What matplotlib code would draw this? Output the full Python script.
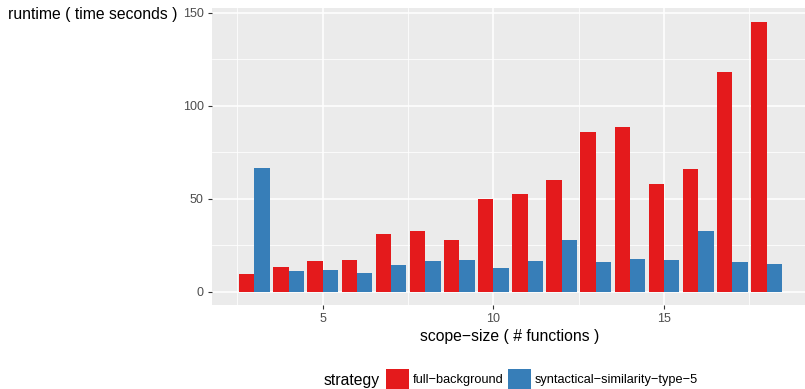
import numpy as np
import matplotlib
matplotlib.use("Agg")
from matplotlib import pyplot as plt
from matplotlib.patches import Rectangle

# scope size (number of functions)
scope_size = [3, 4, 5, 6, 7, 8, 9, 10, 11, 12, 13, 14, 15, 16, 17, 18]
full_background = [9.6, 13.4, 16.6, 17.1, 31.1, 32.7, 27.9, 49.8,
                   52.5, 60.0, 85.7, 88.4, 57.9, 65.9, 117.9, 145.2]
syntactical_similarity = [66.4, 11.2, 11.8, 10.2, 14.5, 16.6, 17.1, 12.9,
                          16.6, 27.9, 16.1, 17.7, 17.1, 32.7, 16.1, 15.0]
strategies = ["full−background", "syntactical−similarity−type−5"]
colors = ["#E41A1C", "#377EB8"]
x_ticks = [5, 10, 15]
y_ticks = [0, 50, 100, 150]

W, H = 805, 389
plt.rcParams['font.family'] = ['Liberation Sans', 'DejaVu Sans']

fig = plt.figure(figsize=(W / 100, H / 100), dpi=100)
# panel in pixel coords: left 212, right ~809 (clipped), top 8, bottom 305
ax = fig.add_axes([212 / W, (H - 305) / H, (809 - 212) / W, (305 - 8) / H])
ax.set_facecolor("#EBEBEB")

x = np.array(scope_size, dtype=float)
width = 0.45
series = [full_background, syntactical_similarity]
for i, (vals, col) in enumerate(zip(series, colors)):
    ax.bar(x - width / 2 + i * width, vals, width=width, color=col,
           linewidth=0, zorder=3)

ax.set_xlim(1.755, 19.245)
ax.set_ylim(-7.26, 152.46)

ax.set_xticks(x_ticks)
ax.set_xticks([2.5, 7.5, 12.5, 17.5], minor=True)
ax.set_yticks(y_ticks)
ax.set_yticks([25, 75, 125], minor=True)
ax.grid(which="major", color="white", linewidth=1.1, zorder=0)
ax.grid(which="minor", color="white", linewidth=0.55, zorder=0)
ax.set_axisbelow(True)
for s in ax.spines.values():
    s.set_visible(False)
ax.tick_params(which="major", length=3, width=0.8, color="#333333",
               labelsize=9, labelcolor="#4D4D4D", pad=3)
ax.tick_params(which="minor", length=0)

fig.text(8 / W, 1 - 14 / H, "runtime ( time seconds )", ha="left",
         va="center", fontsize=11.3, color="black")
fig.text(510 / W, 1 - 336 / H, "scope−size ( # functions )", ha="center",
         va="center", fontsize=11.3, color="black")

# legend along the bottom
ly = 380
fig.text(324 / W, 1 - ly / H, "strategy", ha="left", va="center", fontsize=11.3)
key_x = [386, 508]
text_x = [413, 535]
for kx, tx, col, lab in zip(key_x, text_x, colors, strategies):
    fig.patches.append(Rectangle((kx / W, 1 - 392 / H), 23 / W, 23 / H,
                                 transform=fig.transFigure, color=col,
                                 linewidth=0))
    fig.text(tx / W, 1 - ly / H, lab, ha="left", va="center", fontsize=9.2)

fig.savefig("out.png", dpi=100)
